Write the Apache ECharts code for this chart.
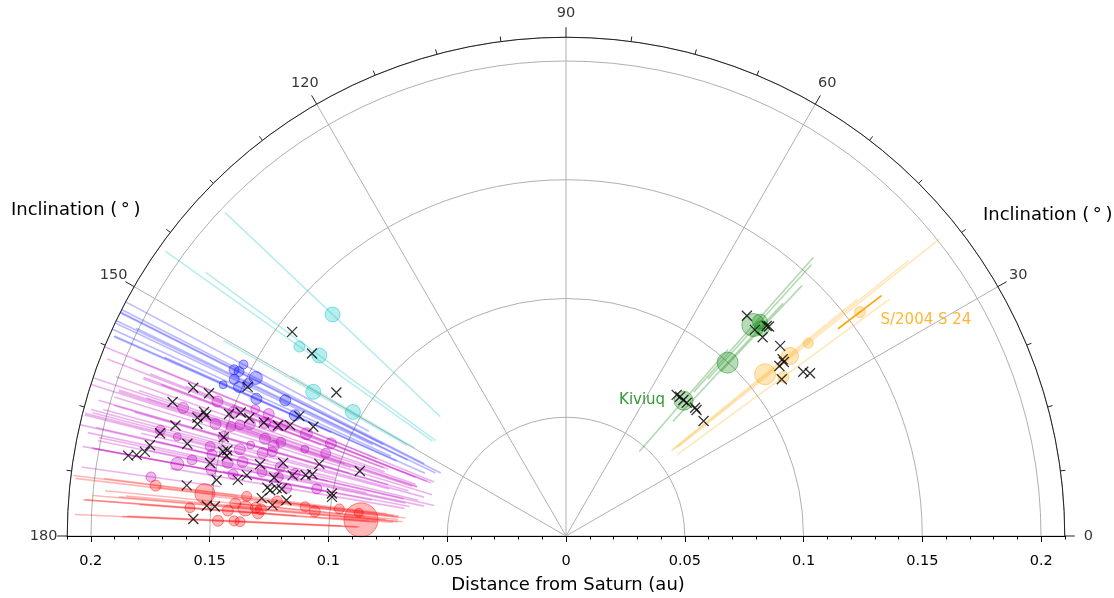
<!DOCTYPE html>
<html>
<head>
<meta charset="utf-8">
<script src="https://cdn.jsdelivr.net/npm/echarts@6/dist/echarts.min.js"></script>
<style>html,body{margin:0;padding:0;background:#fff}#c{width:1114px;height:598px}</style>
</head>
<body>
<div id="c"></div>
<script>
// ---------- DATA ----------
// each moon: [distance a (au), inclination (deg), marker size, pericentre q (au), apocentre Q (au)]
const cyanMoons = [
  [0.1355, 136.5, 14, 0.073, 0.198],
  [0.1377, 144.6, 10, 0.069, 0.207],
  [0.1287, 143.8, 14, 0.068, 0.188],
  [0.1225, 150.3, 14, 0.077, 0.166],
  [0.1038, 149.8, 14, 0.074, 0.134]
];
const blueMoons = [
  [0.1538, 152.0, 8, 0.094, 0.214],
  [0.1563, 153.4, 9, 0.086, 0.226],
  [0.1541, 153.3, 9, 0.059, 0.249],
  [0.1466, 153.0, 12, 0.067, 0.227],
  [0.1545, 154.7, 9, 0.090, 0.219],
  [0.1485, 154.4, 9, 0.074, 0.223],
  [0.1578, 156.2, 7, 0.108, 0.208],
  [0.1513, 155.5, 10, 0.081, 0.221],
  [0.1426, 156.1, 10, 0.078, 0.208],
  [0.1313, 154.2, 10, 0.061, 0.201],
  [0.1250, 156.0, 10, 0.065, 0.185]
];
const magentaMoons = [
  [0.1700, 161.5, 10, 0.125, 0.215],
  [0.1573, 158.9, 10, 0.107, 0.207],
  [0.1413, 157.8, 8, 0.086, 0.196],
  [0.1495, 159.6, 10, 0.110, 0.190],
  [0.1353, 157.7, 10, 0.060, 0.210],
  [0.1549, 162.3, 10, 0.095, 0.215],
  [0.1484, 161.9, 9, 0.098, 0.198],
  [0.1451, 161.2, 9, 0.100, 0.190],
  [0.1412, 160.5, 10, 0.081, 0.201],
  [0.1354, 159.4, 10, 0.080, 0.190],
  [0.1316, 159.5, 9, 0.082, 0.182],
  [0.1278, 158.7, 9, 0.068, 0.188],
  [0.1765, 165.4, 9, 0.147, 0.206],
  [0.1689, 165.7, 7, 0.129, 0.209],
  [0.1502, 163.8, 9, 0.095, 0.205],
  [0.1175, 158.5, 11, 0.063, 0.172],
  [0.1064, 158.5, 10, 0.061, 0.151],
  [0.1159, 161.6, 7, 0.066, 0.166],
  [0.1070, 161.0, 9, 0.067, 0.147],
  [0.1264, 161.8, 9, 0.066, 0.186],
  [0.1288, 162.9, 10, 0.059, 0.199],
  [0.1332, 162.1, 10, 0.068, 0.198],
  [0.1382, 163.9, 7, 0.078, 0.198],
  [0.1421, 165.1, 10, 0.077, 0.207],
  [0.1545, 165.9, 9, 0.100, 0.209],
  [0.1530, 167.0, 9, 0.103, 0.203],
  [0.1607, 168.5, 9, 0.121, 0.201],
  [0.1665, 169.5, 12, 0.127, 0.207],
  [0.1457, 167.8, 10, 0.086, 0.206],
  [0.1397, 167.1, 10, 0.070, 0.210],
  [0.1324, 164.7, 10, 0.062, 0.202],
  [0.1287, 164.0, 9, 0.069, 0.189],
  [0.1519, 169.5, 9, 0.102, 0.202],
  [0.1426, 169.5, 9, 0.083, 0.203],
  [0.1308, 168.1, 9, 0.061, 0.201],
  [0.1238, 166.4, 9, 0.064, 0.184],
  [0.1237, 168.4, 9, 0.069, 0.179],
  [0.1171, 167.0, 9, 0.057, 0.177],
  [0.1193, 170.3, 9, 0.069, 0.169],
  [0.1068, 169.3, 9, 0.067, 0.147],
  [0.1765, 171.9, 9, 0.147, 0.206]
];
const redMoons = [
  [0.1741, 173.0, 10, 0.139, 0.209],
  [0.1531, 173.3, 19, 0.098, 0.208],
  [0.0866, 175.5, 33, 0.073, 0.100],
  [0.0878, 173.6, 8, 0.068, 0.108],
  [0.0961, 173.2, 9, 0.071, 0.121],
  [0.1063, 174.4, 10, 0.071, 0.141],
  [0.1105, 173.6, 9, 0.071, 0.150],
  [0.1225, 173.2, 10, 0.073, 0.173],
  [0.1289, 175.0, 10, 0.069, 0.189],
  [0.1300, 175.8, 10, 0.080, 0.180],
  [0.1355, 172.9, 9, 0.076, 0.196],
  [0.1355, 175.1, 14, 0.071, 0.200],
  [0.1399, 174.4, 10, 0.085, 0.195],
  [0.1428, 175.7, 10, 0.083, 0.203],
  [0.1588, 175.7, 9, 0.114, 0.204],
  [0.1467, 177.5, 10, 0.087, 0.207],
  [0.1399, 177.4, 9, 0.095, 0.185],
  [0.1374, 177.5, 9, 0.088, 0.187],
  [0.1311, 174.8, 10, 0.076, 0.186]
];
const greenMoons = [
  [0.0755, 49.0, 18, 0.047, 0.104],
  [0.0998, 47.0, 20, 0.066, 0.134],
  [0.1188, 48.4, 22, 0.081, 0.157],
  [0.1202, 46.7, 14, 0.095, 0.145],
  [0.1217, 47.85, 14, 0.089, 0.154]
];
const orangeMoons = [
  [0.1556, 37.3, 10, 0.144, 0.167],
  [0.1304, 38.5, 9, 0.060, 0.201],
  [0.1210, 38.8, 16, 0.057, 0.185],
  [0.1080, 39.1, 20, 0.058, 0.158],
  [0.1134, 36.2, 10, 0.058, 0.169]
];
// newly found moons: [distance (au), inclination (deg)]
const newMoons = [
  [0.1438,143.3],[0.1317,144.3],[0.1140,148.0],[0.1480,154.9],[0.1689,158.3],[0.1619,158.2],
  [0.1750,161.2],[0.1611,161.1],[0.1598,161.5],[0.1630,162.2],[0.1622,163.1],[0.1509,160.1],
  [0.1465,159.2],[0.1423,159.6],[0.1359,159.4],[0.1299,159.0],[0.1252,158.1],[0.1231,155.8],
  [0.1159,156.6],[0.1709,164.2],[0.1500,163.9],[0.1763,165.8],[0.1793,167.7],[0.1808,168.7],
  [0.1840,169.3],[0.1874,169.6],[0.1641,166.3],[0.1487,166.2],[0.1471,165.8],[0.1468,166.7],
  [0.1530,168.4],[0.1323,166.8],[0.1230,165.5],[0.1082,163.7],[0.0910,162.5],[0.1490,170.9],
  [0.1402,170.3],[0.1368,169.2],[0.1253,168.7],[0.1179,167.5],[0.1126,166.8],[0.1099,166.3],
  [0.1274,170.8],[0.1260,171.2],[0.1235,170.6],[0.1213,170.6],[0.1291,172.9],[0.1187,172.7],
  [0.1002,169.7],[0.0999,170.5],[0.1611,172.4],[0.1518,175.2],[0.1484,175.2],[0.1243,174.0],
  [0.1571,177.4],
  [0.1200,50.6],[0.1177,47.5],[0.1223,46.3],[0.1228,45.9],[0.1177,45.3],
  [0.0755,51.9],[0.0758,50.7],[0.0756,49.2],[0.0757,47.8],[0.0766,44.8],[0.0764,44.0],[0.0755,39.9],
  [0.1206,41.6],[0.1177,39.2],[0.1174,38.6],[0.1149,38.55],[0.1123,36.0],[0.1215,34.7],[0.1235,33.7]
];
const namedMoons = [
  {name: 'Kiviuq', dist: 0.0755, inc: 49.0},
  {name: 'S/2004 S 24', dist: 0.1556, inc: 37.3}
];
const angleTicks = [0, 30, 60, 90, 120, 150, 180];
const distTicks = [-0.2, -0.15, -0.1, -0.05, 0, 0.05, 0.1, 0.15, 0.2];
const R_MAX = 0.21;

// ---------- CHART ----------
const FONT = 'DejaVu Sans';
const chart = echarts.init(document.getElementById('c'));
const rgba = (c, a) => `rgba(${c[0]},${c[1]},${c[2]},${a})`;
const groups = [
  {moons: cyanMoons, rgb: [0, 191, 191], la: 0.28},
  {moons: blueMoons, rgb: [0, 0, 255], la: 0.27},
  {moons: magentaMoons, rgb: [191, 0, 191], la: 0.3},
  {moons: redMoons, rgb: [255, 0, 0], la: 0.28},
  {moons: greenMoons, rgb: [0, 128, 0], la: 0.3},
  {moons: orangeMoons, rgb: [255, 165, 0], la: 0.27, strong: 0}
];
const series = [];
groups.forEach(g => {
  g.moons.forEach((m, i) => {
    const strong = g.strong === i;
    series.push({
      type: 'line', coordinateSystem: 'polar', polarIndex: 0,
      data: [[m[3], m[1]], [m[4], m[1]]],
      symbol: 'none', silent: true, z: 2,
      lineStyle: {color: rgba(g.rgb, strong ? 1 : g.la), width: 1.6}
    });
  });
});
groups.forEach(g => {
  series.push({
    type: 'scatter', coordinateSystem: 'polar', polarIndex: 0, z: 3, silent: true,
    data: g.moons.map(m => [m[0], m[1], m[2]]),
    symbolSize: v => v[2] + 1,
    itemStyle: {color: rgba(g.rgb, 0.35), borderColor: rgba(g.rgb, 0.55), borderWidth: 1}
  });
});
series.push({
  type: 'scatter', coordinateSystem: 'polar', polarIndex: 0, z: 4, silent: true,
  data: newMoons,
  symbol: 'path://M0,0L10,10M10,0L0,10', symbolSize: 10,
  itemStyle: {color: '#000', borderColor: '#000', borderWidth: 1.3}
});
// annotations
series.push({
  type: 'scatter', coordinateSystem: 'polar', polarIndex: 0, z: 5, silent: true, clip: false,
  data: [[namedMoons[0].dist, namedMoons[0].inc]], symbolSize: 1,
  itemStyle: {color: 'rgba(0,0,0,0)'},
  label: {show: true, position: 'left', distance: 18, offset: [0, -1], formatter: namedMoons[0].name,
          color: '#008000', fontSize: 15, fontFamily: FONT}
});
series.push({
  type: 'scatter', coordinateSystem: 'polar', polarIndex: 0, z: 5, silent: true, clip: false,
  data: [[namedMoons[1].dist, namedMoons[1].inc]], symbolSize: 1,
  itemStyle: {color: 'rgba(0,0,0,0)'},
  label: {show: true, position: 'right', distance: 20, offset: [0, 8], formatter: namedMoons[1].name,
          color: '#ffa500', fontSize: 15, fontFamily: FONT}
});
// angle tick labels, centred a fixed distance outside the rim
const labelR = R_MAX * 1.0472;
series.push({
  type: 'scatter', coordinateSystem: 'polar', polarIndex: 0, z: 5, silent: true, clip: false,
  data: angleTicks.map(a => [labelR, a]), symbolSize: 1,
  itemStyle: {color: 'rgba(0,0,0,0)'},
  label: {show: true, position: 'inside', formatter: p => String(p.value[1]),
          color: '#000', fontSize: 14.5, fontFamily: FONT}
});

const minorDist = [];
for (let k = -21; k <= 21; k++) minorDist.push(k / 100);

const option = {
  animation: false,
  backgroundColor: '#fff',
  textStyle: {fontFamily: FONT},
  polar: [{center: [566, 536], radius: 498.75}],
  angleAxis: [{
    polarIndex: 0, type: 'value', min: 0, max: 180, interval: 30,
    startAngle: 0, endAngle: 180, clockwise: false,
    axisLine: {show: true, lineStyle: {color: '#222', width: 1}},
    axisTick: {show: true, length: 10, lineStyle: {color: '#222', width: 1}},
    minorTick: {show: true, splitNumber: 4, length: 5, lineStyle: {color: '#222', width: 1}},
    axisLabel: {show: false},
    splitLine: {show: true, lineStyle: {color: '#b0b0b0', width: 1}}
  }],
  radiusAxis: [{
    polarIndex: 0, type: 'value', min: 0, max: R_MAX, interval: 0.05,
    axisLine: {show: false}, axisTick: {show: false}, axisLabel: {show: false},
    splitLine: {show: true, lineStyle: {color: '#b0b0b0', width: 1}}
  }],
  grid: {left: 67, right: 49, top: 20, bottom: 62, containLabel: false},
  xAxis: [{
    type: 'value', min: -R_MAX, max: R_MAX, position: 'bottom', z: 6,
    axisLine: {show: true, lineStyle: {color: '#000', width: 1}},
    axisTick: {show: true, customValues: distTicks, length: 6, lineStyle: {color: '#000'}},
    axisLabel: {show: true, customValues: distTicks, margin: 18, color: '#000', fontSize: 14.5, fontFamily: FONT,
                formatter: v => String(Math.round(Math.abs(v) * 100) / 100)},
    splitLine: {show: false}
  }, {
    type: 'value', min: -R_MAX, max: R_MAX, position: 'bottom', z: 6,
    axisLine: {show: false},
    axisTick: {show: true, customValues: minorDist, length: 3.5, lineStyle: {color: '#000'}},
    axisLabel: {show: false}, splitLine: {show: false}
  }],
  yAxis: [{type: 'value', min: 0, max: 1, show: false}],
  graphic: [
    {type: 'text', x: 11, y: 210, style: {text: 'Inclination (\u2009°\u2009)', fontSize: 18, fontFamily: FONT, fill: '#000', align: 'left', verticalAlign: 'middle'}},
    {type: 'text', x: 983, y: 215, style: {text: 'Inclination (\u2009°\u2009)', fontSize: 18, fontFamily: FONT, fill: '#000', align: 'left', verticalAlign: 'middle'}},
    {type: 'text', x: 568, y: 585, style: {text: 'Distance from Saturn (au)', fontSize: 18, fontFamily: FONT, fill: '#000', align: 'center', verticalAlign: 'middle'}}
  ],
  series: series
};
chart.setOption(option);
</script>
</body>
</html>
